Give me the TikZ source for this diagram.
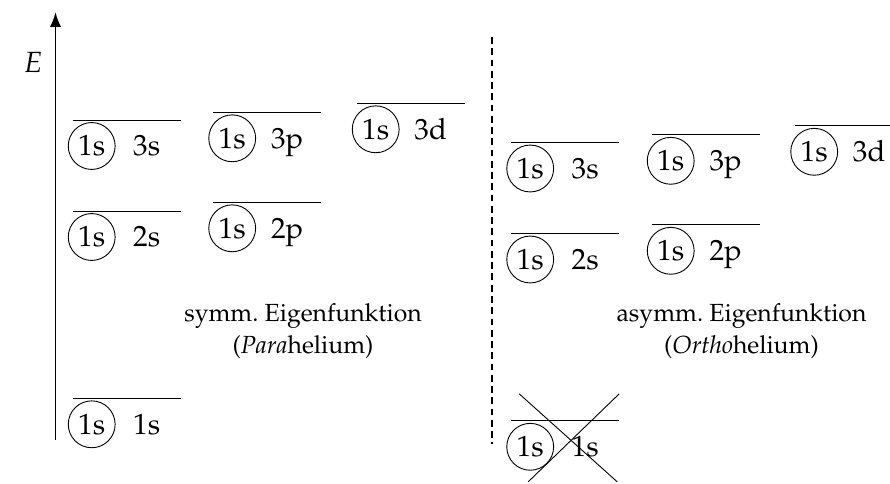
\documentclass[tikz,border=0pt]{standalone}
\usepackage[T1]{fontenc}
\usepackage{mathpazo}
\usetikzlibrary{arrows.meta,calc}

\begin{document}
\begin{tikzpicture}[x=0.444pt,y=-0.444pt,>=Latex,
  font=\fontsize{13}{15.6}\selectfont,
  core/.style={circle,draw,thin,inner sep=2pt},
  term/.style={anchor=base},
  remark/.style={align=center,font=\fontsize{11}{14.2}\selectfont}]
  \useasboundingbox (0,0) rectangle (890,483);
  \clip (0,0) rectangle (890,483);
  % energy axis
  \coordinate (E0) at (55.5,440);
  \coordinate (E1) at (55.5,12);
  \draw[->,line width=0.8pt] (E0) -- (E1);
  \node (Elabel) at (33,62) {$E$};
  % separator
  \coordinate (S0) at (492,37);
  \coordinate (S1) at (492,444);
  \draw[line width=0.8pt,dash pattern=on 3pt off 2pt] (S0) -- (S1);
  % levels: P = para, O = ortho
  \foreach \g/\dx/\dy in {P/0/0,O/438.5/22.5}{
    \foreach \n/\x/\y in {3s/72.7/120,3p/213.2/112.3,3d/356.7/103.3,
                          2s/72.7/211,2p/213.2/202.3,1s/72.7/398.3}{
      \coordinate (\g\n-a) at (\x+\dx,\y+\dy);
      \coordinate (\g\n-b) at (\x+\dx+108,\y+\dy);
      \draw (\g\n-a) -- (\g\n-b);
      \node[core] (\g\n-c) at ($(\g\n-a)+(19,26)$) {1s};
      \node[term] (\g\n-t) at ($(\g\n-c.base)+(55,0)$) {\n};
    }
  }
  % forbidden ground state
  \coordinate (X1) at ($(O1s-a)+(8,-27)$);
  \coordinate (X2) at ($(O1s-a)+(106,61)$);
  \coordinate (X3) at ($(O1s-a)+(108,-27)$);
  \coordinate (X4) at ($(O1s-a)+(17,61)$);
  \draw (X1) -- (X2);
  \draw (X3) -- (X4);
  \node[remark] (para) at (303,331)
    {symm.\ Eigenfunktion\\(\textit{Para}helium)};
  \node[remark] (ortho) at (741.5,331)
    {asymm.\ Eigenfunktion\\(\textit{Ortho}helium)};
\end{tikzpicture}
\end{document}
